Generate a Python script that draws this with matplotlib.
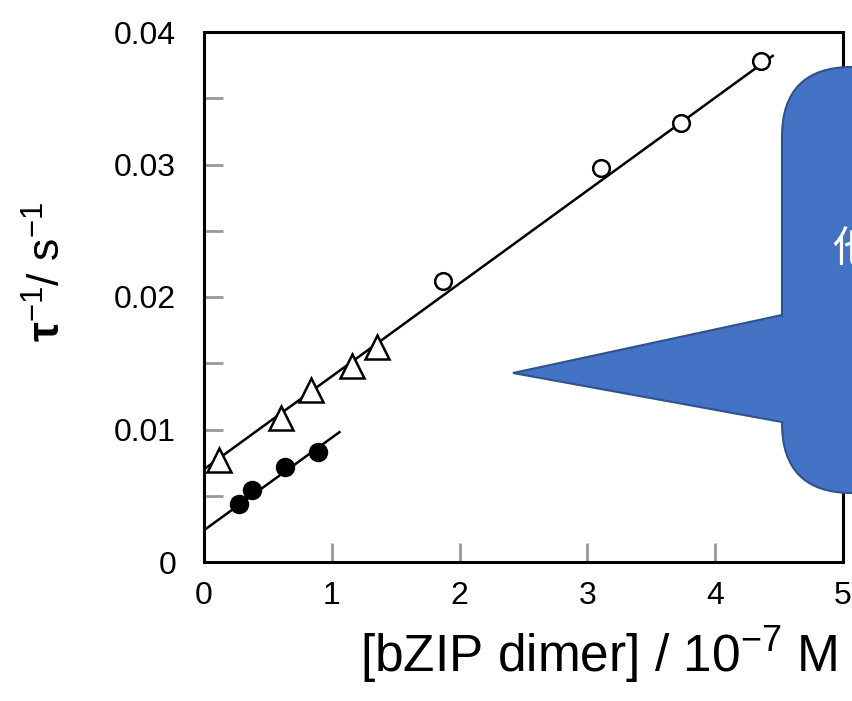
import numpy as np
import matplotlib
matplotlib.use('Agg')
import matplotlib.pyplot as plt
from matplotlib.patches import FancyBboxPatch, Polygon

plt.rcParams['font.family'] = ['Liberation Sans', 'DejaVu Sans']
plt.rcParams['mathtext.fontset'] = 'custom'
plt.rcParams['mathtext.rm'] = 'Liberation Sans'
plt.rcParams['mathtext.it'] = 'Liberation Sans:italic'
plt.rcParams['mathtext.bf'] = 'Liberation Sans:bold'

# data
open_circle_x = [1.87, 3.11, 3.73, 4.36]
open_circle_y = [0.0212, 0.0297, 0.0331, 0.0378]
triangle_x = [0.12, 0.60, 0.84, 1.16, 1.35]
triangle_y = [0.0077, 0.0109, 0.0130, 0.0148, 0.0162]
filled_x = [0.27, 0.375, 0.63, 0.89]
filled_y = [0.0044, 0.0054, 0.0072, 0.0083]
upper_fit_x = [0.0, 4.45]
upper_fit_y = [0.0070, 0.0382]
lower_fit_x = [0.0, 1.06]
lower_fit_y = [0.0024, 0.0098]

xticks = [0, 1, 2, 3, 4, 5]
yticks = [0, 0.01, 0.02, 0.03, 0.04]
ytick_labels = ['0', '0.01', '0.02', '0.03', '0.04']

W, H = 852, 701
fig = plt.figure(figsize=(W / 100, H / 100), dpi=100)
ax = fig.add_axes([204 / W, 1 - 562 / H, 639 / W, 530 / H])

ax.plot(upper_fit_x, upper_fit_y, color='black', lw=1.8, zorder=2)
ax.plot(lower_fit_x, lower_fit_y, color='black', lw=1.8, zorder=2)
ax.plot(open_circle_x, open_circle_y, 'o', ms=12, mfc='white', mec='black', mew=1.8, zorder=3)
ax.plot(triangle_x, triangle_y, '^', ms=17, mfc='white', mec='black', mew=1.8, zorder=3)
ax.plot(filled_x, filled_y, 'o', ms=13, mfc='black', mec='black', zorder=3)

ax.set_xlim(0, 5)
ax.set_ylim(0, 0.04)
ax.set_xticks(xticks)
ax.set_xticklabels([str(t) for t in xticks])
ax.set_yticks(yticks)
ax.set_yticklabels(ytick_labels)
ax.set_yticks(np.arange(0.005, 0.04, 0.01), minor=True)
ax.tick_params(which='both', direction='in', color='#999999', width=2, length=14)
ax.tick_params(axis='x', labelsize=23, pad=14)
ax.tick_params(axis='y', labelsize=23, pad=20)
for s in ax.spines.values():
    s.set_linewidth(2.2)
    s.set_color('black')

fig.text(838 / W, 1 - 655 / H, '[bZIP dimer] / 10$^{\\mathregular{-7}}$ M',
         fontsize=37, ha='right', va='center')
fig.text(48 / W, 1 - 272 / H, r'$\mathbf{\tau}^{-1}$/ s$^{-1}$',
         fontsize=32, rotation=90, ha='center', va='center')

# callout shape drawn over the chart
blue = '#4472C4'
edge = '#2F528F'
tri = Polygon([(782, H - 315), (513, H - 373), (782, H - 422)], closed=True,
              transform=None, facecolor=blue, edgecolor=edge, lw=1.5, zorder=10)
fig.patches.append(tri)
box = FancyBboxPatch((782, H - 493), 200, 426, boxstyle='round,pad=0,rounding_size=70',
                     transform=None, facecolor=blue, edgecolor=edge, lw=1.5, zorder=11)
fig.patches.append(box)
cover = Polygon([(779, H - 316.5), (790, H - 316.5), (790, H - 420.5), (779, H - 420.5)],
                closed=True, transform=None, facecolor=blue, edgecolor='none', zorder=12)
fig.patches.append(cover)
fig.text(832 / W, 1 - 250 / H, '他', family=['Noto Sans CJK SC', 'DejaVu Sans'],
         fontweight='light', fontsize=31, color='white', ha='left', va='center', zorder=13)

fig.savefig('out.png', dpi=100)
